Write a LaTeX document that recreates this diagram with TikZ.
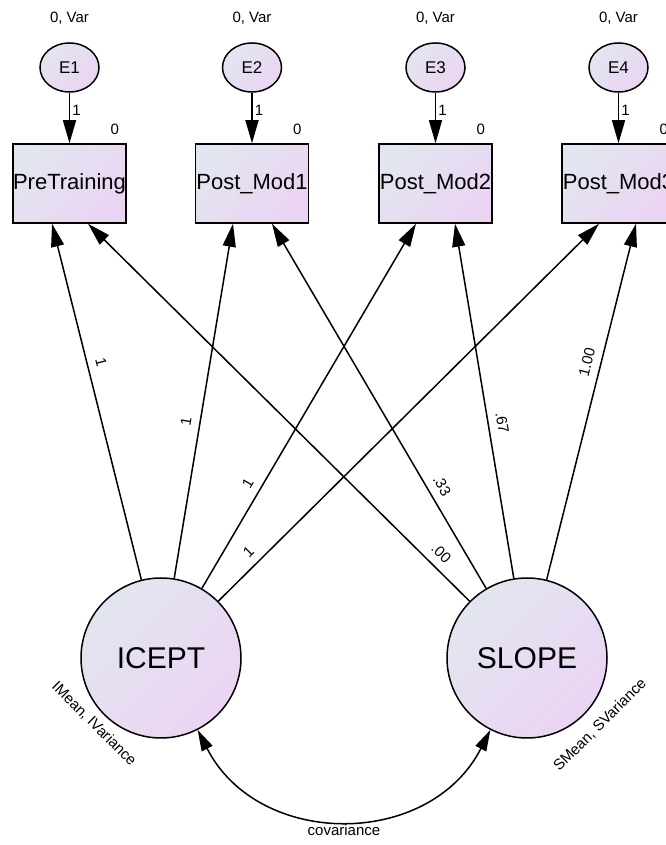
\documentclass[tikz,border=0pt]{standalone}
\usepackage{fontspec}
\setmainfont{Liberation Sans}
\usetikzlibrary{arrows.meta,shapes.geometric,calc}
\definecolor{fillA}{RGB}{226,230,240}
\definecolor{fillB}{RGB}{235,212,243}
\begin{document}
\begin{tikzpicture}[x=1pt,y=1pt,
  grad/.style={top color=fillA,bottom color=fillB,shading angle=45},
  obsbox/.style={draw,line width=1.5pt,grad,rectangle,minimum width=113pt,minimum height=79pt,inner sep=0pt,font=\fontsize{22}{24}\selectfont},
  errnode/.style={draw,line width=1.5pt,grad,ellipse,minimum width=59pt,minimum height=49pt,inner sep=0pt,font=\fontsize{17}{19}\selectfont},
  latent/.style={draw,line width=1.5pt,grad,circle,minimum size=160pt,inner sep=0pt,font=\fontsize{30}{32}\selectfont},
  arr/.style={line width=1.5pt,-{Triangle[length=23pt,width=13pt]}},
  darr/.style={line width=1.5pt,{Triangle[length=21pt,width=12pt]}-{Triangle[length=21pt,width=12pt]}},
  lab/.style={font=\fontsize{15}{17}\selectfont,inner sep=1pt},
  coef/.style={lab,sloped,above=7pt}
]
\useasboundingbox (0,0) rectangle (665,845);
% observed variables
\node[obsbox] (B1) at (69.5,661.5) {PreTraining};
\node[obsbox] (B2) at (252,661.5) {Post\_Mod1};
\node[obsbox] (B3) at (435.5,661.5) {Post\_Mod2};
\node[obsbox] (B4) at (618.5,661.5) {Post\_Mod3};
% errors
\node[errnode] (E1) at (69.5,777.5) {E1};
\node[errnode] (E2) at (252,777.5) {E2};
\node[errnode] (E3) at (435.5,777.5) {E3};
\node[errnode] (E4) at (618.5,777.5) {E4};
% latent
\node[latent] (I) at (161,187) {ICEPT};
\node[latent] (S) at (527,187) {SLOPE};
% labels
\foreach \k in {1,2,3,4}{
  \node[lab] (v\k) at ($(E\k.north)+(0,24)$) {0, Var};
  \node[lab] (z\k) at ($(B\k.north east)+(-12,14)$) {0};
  \draw[arr] (E\k) -- node[lab,pos=0.35,right=1pt]{1} (B\k);
}
\node[lab,rotate=-45] (im) at ($(I)+(-67,-66)$) {IMean, IVariance};
\node[lab,rotate=45] (sm) at ($(S)+(73,-67)$) {SMean, SVariance};
% end points on boxes
\coordinate (B1i) at ($(B1.south)+(-17.5,0)$);
\coordinate (B2i) at ($(B2.south)+(-19,0)$);
\coordinate (B3i) at ($(B3.south)+(-19.5,0)$);
\coordinate (B4i) at ($(B4.south)+(-19.5,0)$);
\coordinate (B1s) at ($(B1.south)+(18.5,0)$);
\coordinate (B2s) at ($(B2.south)+(20,0)$);
\coordinate (B3s) at ($(B3.south)+(19.5,0)$);
\coordinate (B4s) at ($(B4.south)+(17.5,0)$);
% paths
\draw[arr] (I) -- node[coef,pos=0.602]{1} (B1i);
\draw[arr] (I) -- node[coef,pos=0.435]{1} (B2i);
\draw[arr] (I) -- node[coef,pos=0.27]{1} (B3i);
\draw[arr] (I) -- node[coef,pos=0.105]{1} (B4i);
\draw[arr] (S) -- node[coef,pos=0.10]{.00} (B1s);
\draw[arr] (S) -- node[coef,pos=0.262]{.33} (B2s);
\draw[arr] (S) -- node[coef,pos=0.432]{.67} (B3s);
\draw[arr] (S) -- node[coef,pos=0.602]{1.00} (B4s);
% covariance
\draw[darr] (I) to[out=-63,in=-117,looseness=1.17] node[lab,below=4pt]{covariance} (S);
\end{tikzpicture}
\end{document}
